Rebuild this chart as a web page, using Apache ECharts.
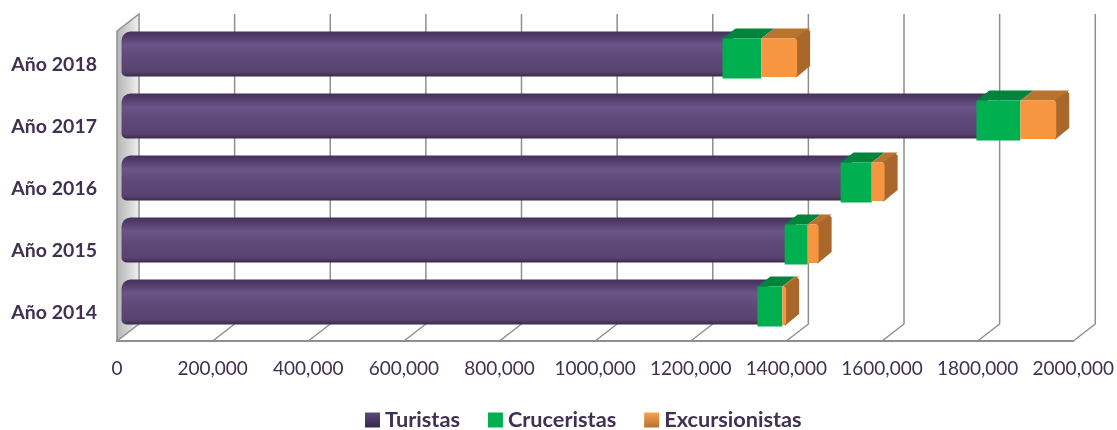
<!DOCTYPE html>
<html>
<head>
<meta charset="utf-8">
<style>
    html, body { margin: 0; padding: 0; background: #fff; }
    #chart { width: 1117px; height: 430px; }
</style>
<script src="https://cdn.jsdelivr.net/npm/echarts@6/dist/echarts.min.js"></script>
</head>
<body>
<div id="chart"></div>
<script>
const years = ['Año 2014', 'Año 2015', 'Año 2016', 'Año 2017', 'Año 2018'];
const turistas = [1330000, 1387000, 1504000, 1788000, 1257000];
const cruceristas = [52000, 48000, 65000, 92000, 81000];
const excursionistas = [8000, 23000, 27000, 75000, 75000];
const tickValues = [0, 200000, 400000, 600000, 800000, 1000000, 1200000, 1400000, 1600000, 1800000, 2000000];
const tickLabels = ['0', '200,000', '400,000', '600,000', '800,000', '1000,000', '1200,000', '1400,000', '1600,000', '1800,000', '2000,000'];

const textColor = '#403152';
const gridColor = '#8f8f8f';
const fontName = 'Lato, Carlito, sans-serif';

// fake 3D: how far the box goes backwards
const wallDx = 22, wallDy = 17;
const barDx = 13, barDy = 10;
const planeDx = 4.5, planeDy = 3.5;
const barRatio = 0.645;

function gradient(stops, horizontal) {
    return new echarts.graphic.LinearGradient(0, 0, horizontal ? 1 : 0, horizontal ? 0 : 1, stops);
}

const purpleFill = gradient([
    {offset: 0, color: '#43305a'},
    {offset: 0.1, color: '#4f3b69'},
    {offset: 0.3, color: '#6b5488'},
    {offset: 0.6, color: '#5d4878'},
    {offset: 0.9, color: '#58436f'},
    {offset: 1, color: '#38294a'}
]);

// left wall + floor lines + gridlines
function renderWalls(params, api) {
    let v = api.value(0);
    let c = params.coordSys;
    let x = api.coord([v, 0])[0];
    let bottom = c.y + c.height;
    let top = c.y;
    let line = {stroke: gridColor, lineWidth: 1.5, fill: null};
    let children = [];
    if (v === 0) {
        children.push({
            type: 'polygon',
            shape: {points: [[x, top], [x + wallDx, top - wallDy], [x + wallDx, bottom - wallDy], [x, bottom]]},
            style: {
                fill: gradient([
                    {offset: 0, color: '#b4b4b4'},
                    {offset: 0.55, color: '#d4d4d4'},
                    {offset: 1, color: '#f4f4f4'}
                ], true),
                stroke: gridColor,
                lineWidth: 1.5
            }
        });
    } else {
        children.push({
            type: 'polyline',
            shape: {points: [[x, bottom], [x + wallDx, bottom - wallDy], [x + wallDx, top - wallDy]]},
            style: line
        });
    }
    return {type: 'group', children: children};
}

function renderTuristas(params, api) {
    let p0 = api.coord([api.value(1), api.value(0)]);
    let p1 = api.coord([api.value(2), api.value(0)]);
    let h = api.size([0, 1])[1] * barRatio;
    let x0 = p0[0] + planeDx;
    let x1 = p1[0] + planeDx;
    let y = p0[1] - planeDy - h / 2;
    return {
        type: 'rect',
        shape: {x: x0, y: y - barDy + 3, width: x1 - x0 + barDx - 2, height: h + barDy - 5, r: [9, 0, 0, 5]},
        style: {fill: purpleFill}
    };
}

function renderBlock(front, topFace, sideFace, rounded) {
    return function (params, api) {
        let p0 = api.coord([api.value(1), api.value(0)]);
        let p1 = api.coord([api.value(2), api.value(0)]);
        let h = api.size([0, 1])[1] * barRatio;
        if (rounded) h -= 1.5;
        let x0 = p0[0] + planeDx;
        let x1 = p1[0] + planeDx;
        let y = p0[1] - planeDy - api.size([0, 1])[1] * barRatio / 2;
        let children = [];
        children.push({
            type: 'polygon',
            shape: {points: [[x0, y], [x0 + barDx, y - barDy], [x1 + barDx, y - barDy], [x1, y]]},
            style: {fill: topFace}
        });
        if (sideFace) {
            children.push({
                type: 'polygon',
                shape: {points: [[x1 - 2, y], [x1 + barDx - 2, y - barDy + 1], [x1 + barDx, y - barDy + 3], [x1 + barDx, y + h - barDy - 1], [x1 - 1, y + h + 0.5], [x1 - 2, y + h]]},
                style: {fill: sideFace}
            });
        }
        children.push({
            type: 'rect',
            shape: {x: x0, y: y, width: x1 - x0, height: h, r: rounded ? [0, 3, 3, 0] : 0},
            style: {fill: front}
        });
        return {type: 'group', children: children};
    };
}

function stackData(values, below) {
    return values.map(function (v, i) {
        let start = below.reduce(function (sum, list) { return sum + list[i]; }, 0);
        return [i, start, start + v];
    });
}

let chart = echarts.init(document.getElementById('chart'));

let option = {
    animation: false,
    backgroundColor: '#fff',
    grid: {left: 117, top: 31, width: 957, height: 310},
    legend: {
        left: 360,
        top: 404,
        itemWidth: 15,
        itemHeight: 15,
        itemGap: 28,
        textStyle: {color: textColor, fontFamily: fontName, fontWeight: 'bold', fontSize: 21.7},
        data: [
            {name: 'Turistas', icon: 'rect', itemStyle: {color: gradient([{offset: 0, color: '#5d4878'}, {offset: 1, color: '#38294a'}])}},
            {name: 'Cruceristas', icon: 'rect', itemStyle: {color: '#00b050'}},
            {name: 'Excursionistas', icon: 'rect', itemStyle: {color: gradient([{offset: 0, color: '#f9a24e'}, {offset: 1, color: '#b5722f'}])}}
        ]
    },
    xAxis: {
        type: 'value',
        min: 0,
        max: 2000000,
        interval: 200000,
        axisLine: {show: true, lineStyle: {color: gridColor, width: 2}},
        axisTick: {show: false},
        splitLine: {show: false},
        axisLabel: {
            margin: 18,
            color: textColor,
            fontFamily: fontName,
            fontSize: 19,
            formatter: function (v) { return tickLabels[tickValues.indexOf(v)]; }
        }
    },
    yAxis: {
        type: 'category',
        data: years,
        axisLine: {show: false},
        axisTick: {show: false},
        // labels sit a bit under the band centre in the original
        axisLabel: {margin: 20, verticalAlign: 'top', lineHeight: 6, color: textColor, fontFamily: fontName, fontWeight: 'bold', fontSize: 19.5}
    },
    series: [
        {
            type: 'custom',
            name: 'paredes',
            z: 1,
            silent: true,
            renderItem: renderWalls,
            encode: {x: 0},
            data: tickValues.map(function (v) { return [v]; })
        },
        {
            type: 'custom',
            name: 'Turistas',
            z: 2,
            renderItem: renderTuristas,
            encode: {x: [1, 2], y: 0},
            itemStyle: {color: '#5d4878'},
            data: stackData(turistas, [])
        },
        {
            type: 'custom',
            name: 'Cruceristas',
            z: 3,
            renderItem: renderBlock('#00b050', '#00843c', null, false),
            encode: {x: [1, 2], y: 0},
            itemStyle: {color: '#00b050'},
            data: stackData(cruceristas, [turistas])
        },
        {
            type: 'custom',
            name: 'Excursionistas',
            z: 4,
            renderItem: renderBlock('#f79640', '#b8742f', '#a9672b', true),
            encode: {x: [1, 2], y: 0},
            itemStyle: {color: '#f79640'},
            data: stackData(excursionistas, [turistas, cruceristas])
        }
    ]
};

chart.setOption(option);
</script>
</body>
</html>
